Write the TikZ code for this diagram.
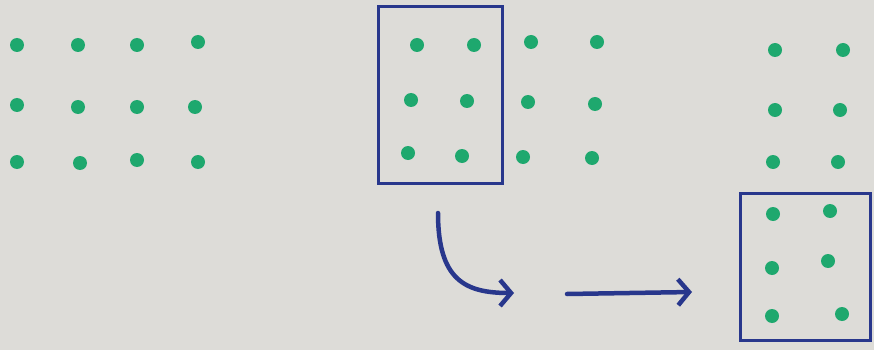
\documentclass[tikz,border=0pt]{standalone}
\usepackage{xcolor}
\usepackage{tikz}
\usetikzlibrary{arrows.meta}
\definecolor{paper}{RGB}{221,220,216}
\definecolor{inkgreen}{RGB}{30,168,110}
\definecolor{inkblue}{RGB}{40,55,140}

\begin{document}
\begin{tikzpicture}[x=1pt, y=-1pt,
  dot/.style={circle, fill=inkgreen, minimum size=14pt, inner sep=0pt},
  block/.style={draw=inkblue, line width=3pt, inner sep=0pt},
  move/.style={draw=inkblue, line width=4.5pt, line cap=round, -{Straight Barb[length=11pt, width=26pt, line width=4.5pt]}}
]
\fill[paper] (0,0) rectangle (874,350);
\useasboundingbox (0,0) rectangle (874,350);
% full grid
\node[dot] (a11) at (17,45) {};
\node[dot] (a12) at (78,45) {};
\node[dot] (a13) at (137,45) {};
\node[dot] (a14) at (198,42) {};
\node[dot] (a21) at (17,105) {};
\node[dot] (a22) at (78,107) {};
\node[dot] (a23) at (137,107) {};
\node[dot] (a24) at (195,107) {};
\node[dot] (a31) at (17,162) {};
\node[dot] (a32) at (80,163) {};
\node[dot] (a33) at (137,160) {};
\node[dot] (a34) at (198,162) {};
% first block picked out
\draw[block] (378,7) rectangle (502,183);
\node[dot] (b11) at (417,45) {};
\node[dot] (b12) at (474,45) {};
\node[dot] (b13) at (531,42) {};
\node[dot] (b14) at (597,42) {};
\node[dot] (b21) at (411,100) {};
\node[dot] (b22) at (467,101) {};
\node[dot] (b23) at (528,102) {};
\node[dot] (b24) at (595,104) {};
\node[dot] (b31) at (408,153) {};
\node[dot] (b32) at (462,156) {};
\node[dot] (b33) at (523,157) {};
\node[dot] (b34) at (592,158) {};
% block moved below
\node[dot] (c11) at (775,50) {};
\node[dot] (c12) at (843,50) {};
\node[dot] (c21) at (775,110) {};
\node[dot] (c22) at (840,110) {};
\node[dot] (c31) at (773,162) {};
\node[dot] (c32) at (838,162) {};
\draw[block] (740,193) rectangle (870,340);
\node[dot] (d11) at (773,214) {};
\node[dot] (d12) at (830,211) {};
\node[dot] (d21) at (772,268) {};
\node[dot] (d22) at (828,261) {};
\node[dot] (d31) at (772,316) {};
\node[dot] (d32) at (842,314) {};
% arrows
\coordinate (p0) at (438,213);
\coordinate (p1) at (514,293);
\coordinate (q0) at (567,294);
\coordinate (q1) at (692,292);
\draw[move] (p0) .. controls (438,280) and (465,293) .. (p1);
\draw[move] (q0) -- (q1);
\end{tikzpicture}
\end{document}
